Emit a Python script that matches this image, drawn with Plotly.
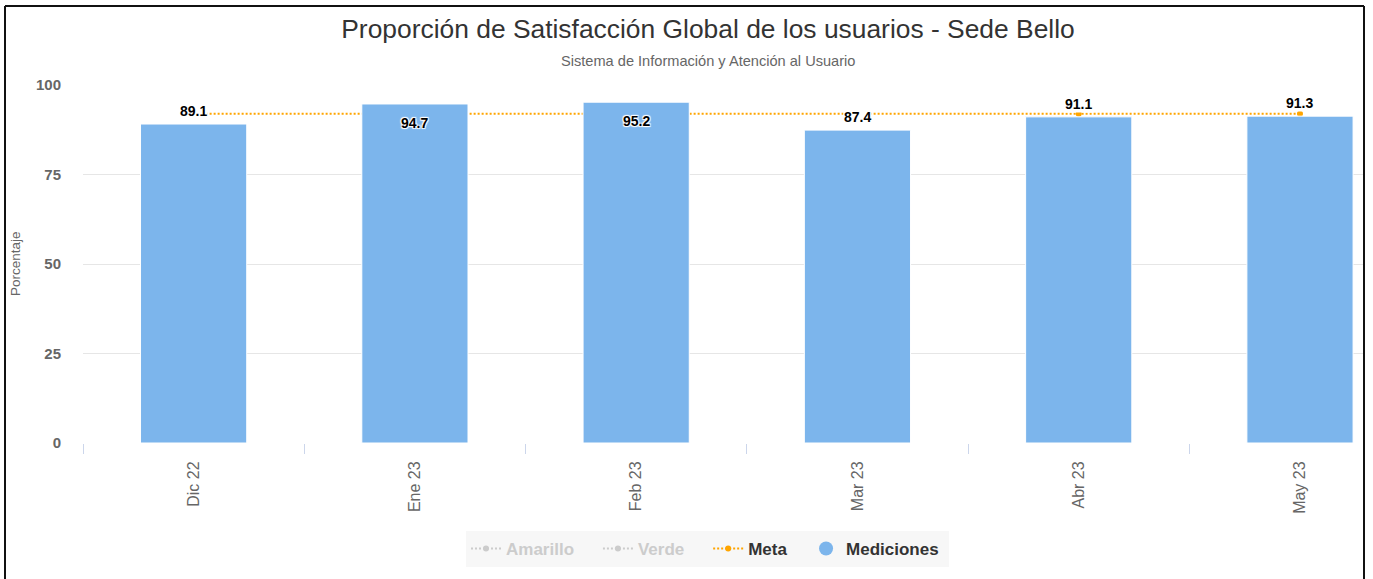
import plotly.graph_objects as go

# ---------------- data ----------------
categories = ["Dic 22", "Ene 23", "Feb 23", "Mar 23", "Abr 23", "May 23"]
mediciones = [89.1, 94.7, 95.2, 87.4, 91.1, 91.3]
meta = [92, 92, 92, 92, 92, 92]
amarillo = []   # hidden series (not shown in the reference)
verde = []      # hidden series (not shown in the reference)
label_placement = ["above", "inside", "inside", "above", "above", "above"]
y_ticks = [0, 25, 50, 75, 100]

# ---------------- style ----------------
FONT = "Liberation Sans, Arial, sans-serif"
BAR = "#7cb5ec"
META = "#FFA500"
HIDDEN = "#cccccc"
OUTLINE = "1px 1px 1px #fff, -1px -1px 1px #fff, 1px -1px 1px #fff, -1px 1px 1px #fff"
NB = "\u00a0"

W, H = 1373, 579
L, R, T, B = 83, 10, 85, 136
PW, PH = W - L - R, H - T - B


def px_x(px):
    return (px - L) / PW


def px_y(py):
    return (H - B - py) / PH


def legend_only(values):
    # keeps an (empty) hidden series visible as a legend entry
    return values if values else [None]


fig = go.Figure()

fig.add_trace(go.Scatter(
    x=categories[:len(amarillo)] or [None], y=legend_only(amarillo),
    name="<span style='color:#cccccc'>Amarillo</span>" + NB * 4,
    mode="lines+markers",
    line=dict(color=HIDDEN, width=2, dash="2px,2px"),
    marker=dict(color=HIDDEN, size=6),
))
fig.add_trace(go.Scatter(
    x=categories[:len(verde)] or [None], y=legend_only(verde),
    name="<span style='color:#cccccc'>Verde</span>" + NB * 4,
    mode="lines+markers",
    line=dict(color=HIDDEN, width=2, dash="2px,2px"),
    marker=dict(color=HIDDEN, size=6),
))
fig.add_trace(go.Scatter(
    x=categories, y=meta, name="Meta" + NB * 3,
    mode="lines+markers",
    line=dict(color=META, width=2, dash="2px,2px"),
    marker=dict(color=META, size=6),
    zorder=0,
))
fig.add_trace(go.Bar(
    x=categories, y=mediciones, name="Mediciones",
    marker=dict(color=BAR, line=dict(color="white", width=1)),
    width=0.48, showlegend=False, zorder=1,
))
fig.add_trace(go.Scatter(
    x=[None], y=[None], name="Mediciones" + NB, mode="markers",
    marker=dict(color=BAR, size=14, symbol="circle"),
))

for c, v, p in zip(categories, mediciones, label_placement):
    above = p == "above"
    fig.add_annotation(
        x=c, y=v, xref="x", yref="y", text=f"{v:.1f}", showarrow=False,
        yshift=13 if above else -19,
        bgcolor="white" if above else "rgba(0,0,0,0)", borderpad=0,
        font=dict(family=FONT, size=14, color="#000", weight="bold", shadow=OUTLINE),
    )

# subtitle
fig.add_annotation(
    xref="paper", yref="paper", x=px_x(708), y=px_y(61),
    text="Sistema de Información y Atención al Usuario", showarrow=False,
    xanchor="center", yanchor="middle",
    font=dict(family=FONT, size=14.6, color="#666666"),
)
# y-axis title
fig.add_annotation(
    xref="paper", yref="paper", x=px_x(15), y=px_y(264),
    text="Porcentaje", showarrow=False, textangle=-90,
    xanchor="center", yanchor="middle",
    font=dict(family=FONT, size=13.5, color="#666666"),
)

# outer frame (left, top, right)
fx0, fx1 = px_x(5), px_x(1364)
fy_top = px_y(6)
for x0, y0, x1, y1 in [(fx0, -1, fx0, fy_top), (fx0, fy_top, fx1, fy_top), (fx1, -1, fx1, fy_top)]:
    fig.add_shape(type="line", xref="paper", yref="paper", x0=x0, y0=y0, x1=x1, y1=y1,
                  line=dict(color="#111111", width=2))

fig.update_layout(
    width=W, height=H,
    margin=dict(l=L, r=R, t=T, b=B, pad=0),
    paper_bgcolor="white", plot_bgcolor="white",
    font=dict(family=FONT, color="#333333"),
    title=dict(
        text="Proporción de Satisfacción Global de los usuarios - Sede Bello",
        x=708 / W, y=1 - 29 / H, xanchor="center", yanchor="middle",
        xref="container", yref="container",
        font=dict(family=FONT, size=26.4, color="#333333"),
    ),
    showlegend=True,
    legend=dict(
        orientation="h", x=px_x(707.5), y=px_y(531), xanchor="center", yanchor="top",
        bgcolor="#f7f7f7", borderwidth=0,
        font=dict(family=FONT, size=17, color="#333333", weight="bold"),
        traceorder="normal",
    ),
    bargap=0.52,
    hovermode=False,
)

fig.update_xaxes(
    type="category", range=[-0.5, 5.5 - (1410.6 - 1363) / 221.2],
    showline=True, linecolor="#ccd6eb", linewidth=1,
    ticks="outside", ticklen=10, tickcolor="#ccd6eb", tickson="boundaries",
    tickangle=-90, tickfont=dict(family=FONT, size=16, color="#666666"),
    showgrid=False, zeroline=False, ticklabelstandoff=11,
)
fig.update_yaxes(
    range=[0, 100], tickvals=y_ticks, ticktext=[str(t) for t in y_ticks],
    showgrid=True, gridcolor="#e6e6e6", gridwidth=1, zeroline=False,
    showline=False, ticks="",
    tickfont=dict(family=FONT, size=15, color="#666666", weight="bold"),
    ticklabelstandoff=21,
)

fig.write_html("out.html", config={"displayModeBar": False},
               post_script="document.body.style.margin='0';")
